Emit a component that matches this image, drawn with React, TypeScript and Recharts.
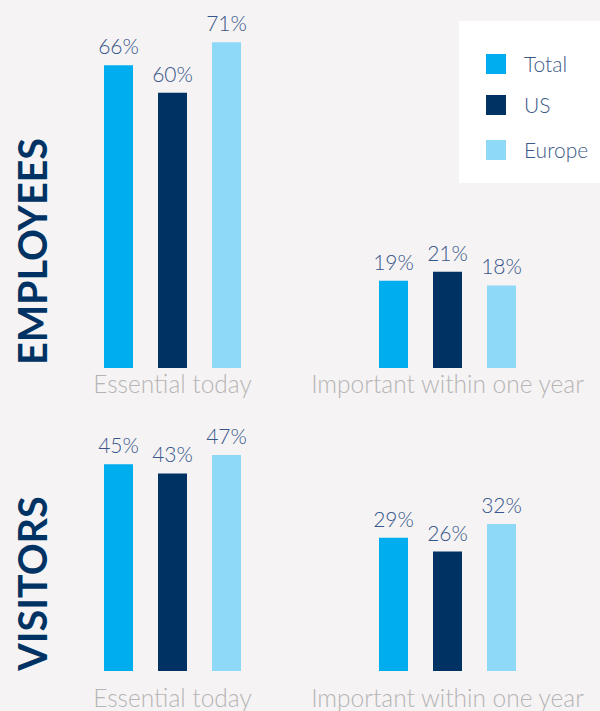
import React from 'react';
import { Bar, BarChart, LabelList, Legend, XAxis, YAxis } from 'recharts';

// categories and values
const categories = ['Essential today', 'Important within one year'];
const seriesNames = ['Total', 'US', 'Europe'];
const seriesColors = ['#00adef', '#003363', '#8ed8f8'];

const employeesTotal = [66, 19];
const employeesUS = [60, 21];
const employeesEurope = [71, 18];

const visitorsTotal = [45, 29];
const visitorsUS = [43, 26];
const visitorsEurope = [47, 32];

const FONT = 'Lato, "Open Sans", sans-serif';

const buildRows = (total: number[], us: number[], europe: number[]) =>
  categories.map((name, i) => ({ name, Total: total[i], US: us[i], Europe: europe[i] }));

const employeesData = buildRows(employeesTotal, employeesUS, employeesEurope);
const visitorsData = buildRows(visitorsTotal, visitorsUS, visitorsEurope);

// legend keeps the series order, not the payload order
const renderLegend = () => (
  <div style={{ background: '#ffffff', width: 141, height: 162, position: 'relative' }}>
    {seriesNames.map((name, i) => (
      <div
        key={name}
        style={{ position: 'absolute', left: 27, top: [33, 74, 119][i], display: 'flex', alignItems: 'center' }}
      >
        <span style={{ width: 20, height: 20, background: seriesColors[i], display: 'inline-block' }} />
        <span style={{ marginLeft: 18, fontFamily: FONT, fontSize: 21, color: '#3d5a87', fontWeight: 300, lineHeight: '20px' }}>
          {name}
        </span>
      </div>
    ))}
  </div>
);

const panelLabel = (text: string, cy: number) => () => {
  const cx = 47;
  return (
    <text
      x={cx}
      y={cy}
      transform={`rotate(-90, ${cx}, ${cy})`}
      textAnchor="middle"
      fill="#003363"
      fontFamily={FONT}
      fontWeight={700}
      fontSize={39.5}
    >
      {text}
    </text>
  );
};

interface PanelProps {
  data: any[];
  height: number;
  yMax: number;
  title: string;
  tickMargin: number;
  topMargin: number;
  bottomMargin: number;
  showLegend?: boolean;
  labelCenter: number;
}

function Panel({ data, height, yMax, title, tickMargin, topMargin, bottomMargin, showLegend, labelCenter }: PanelProps) {
  return (
    <BarChart
      width={600}
      height={height}
      data={data}
      margin={{ top: topMargin, right: 15, bottom: bottomMargin, left: 0 }}
      barSize={29}
      barGap={25}
    >
      <XAxis
        dataKey="name"
        axisLine={false}
        tickLine={false}
        tickMargin={tickMargin}
        height={30}
        interval={0}
        tick={{ fill: '#b5b5b5', fontSize: 24.5, fontFamily: FONT, fontWeight: 300 }}
      />
      <YAxis
        width={35}
        domain={[0, yMax]}
        axisLine={false}
        tickLine={false}
        tick={false}
        label={{ content: panelLabel(title, labelCenter), value: title }}
      />
      {showLegend && (
        <Legend
          layout="vertical"
          align="center"
          verticalAlign="middle"
          content={renderLegend}
          wrapperStyle={{ left: 459, top: 21, width: 141, height: 162 }}
        />
      )}
      {seriesNames.map((s, i) => (
        <Bar key={s} dataKey={s} name={s} fill={seriesColors[i]} isAnimationActive={false}>
          <LabelList
            dataKey={s}
            position="top"
            offset={11}
            formatter={(v: any) => `${v}%`}
            fill="#37568a"
            fontSize={21}
            fontFamily={FONT}
            fontWeight={300}
          />
        </Bar>
      ))}
    </BarChart>
  );
}

export default function App() {
  return (
    <div style={{ position: 'absolute', left: 0, top: 0, width: 600, height: 711, background: '#f5f3f4', overflow: 'hidden' }}>
      <div style={{ position: 'absolute', left: 0, top: 0 }}>
        <Panel data={employeesData} height={400} yMax={80} title="EMPLOYEES" tickMargin={2} topMargin={1} bottomMargin={2} showLegend labelCenter={251.5} />
      </div>
      <div style={{ position: 'absolute', left: 0, top: 400 }}>
        <Panel data={visitorsData} height={311} yMax={59} title="VISITORS" tickMargin={13} topMargin={0} bottomMargin={10} labelCenter={183.5} />
      </div>
    </div>
  );
}
